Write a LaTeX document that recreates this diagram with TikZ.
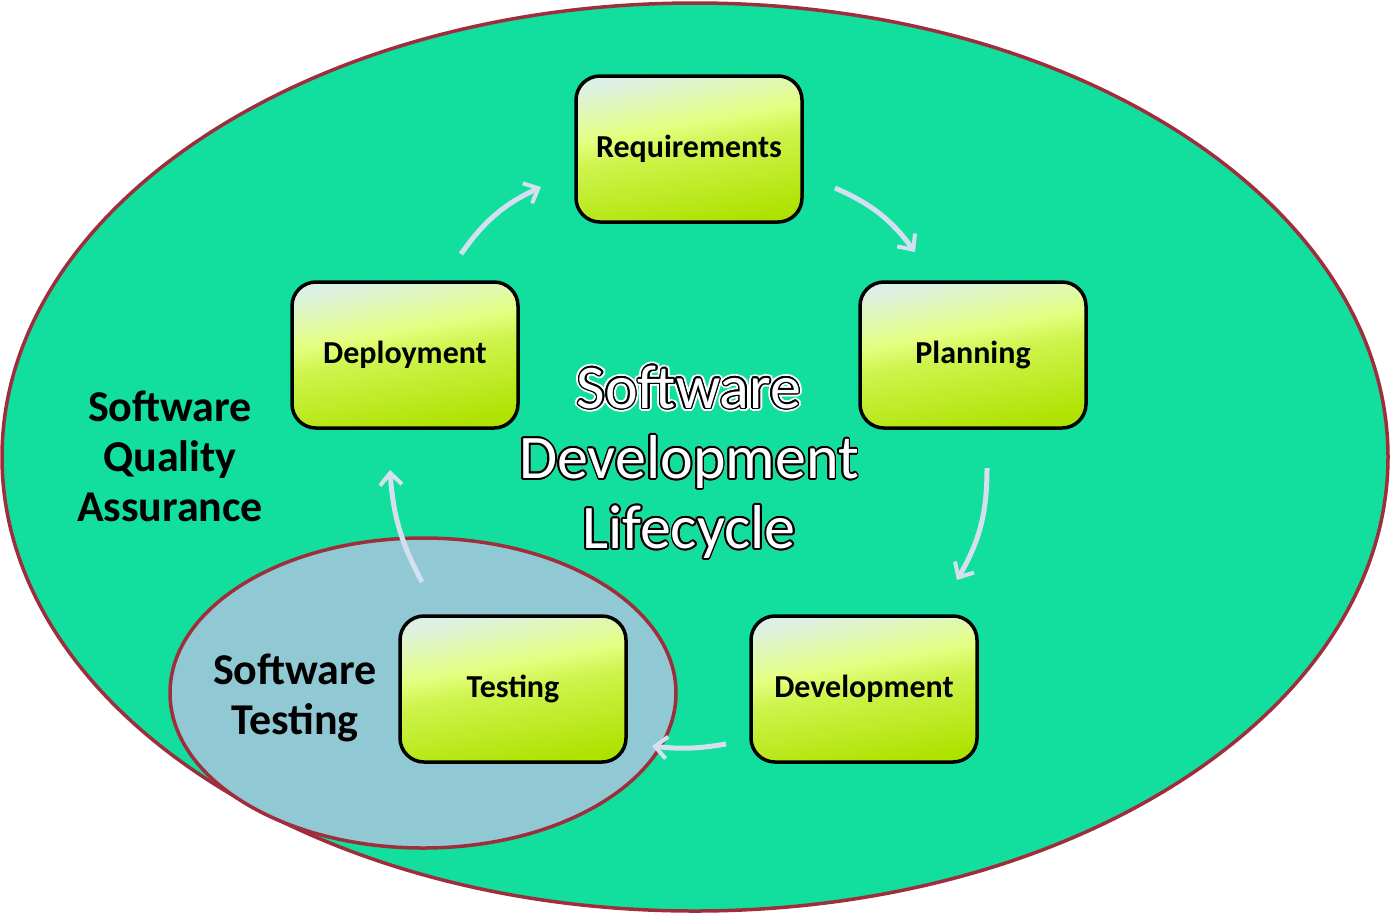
\documentclass[tikz,border=0pt]{standalone}
\usepackage{fontspec}
\setmainfont{Carlito}
\usepackage[copies]{contour}
\usetikzlibrary{arrows.meta}

\definecolor{qagreen}{RGB}{18,222,158}
\definecolor{stblue}{RGB}{144,200,212}
\definecolor{rimred}{RGB}{160,45,60}
\definecolor{boxtop}{RGB}{220,240,228}
\definecolor{boxmid}{RGB}{228,255,128}
\definecolor{boxbot}{RGB}{174,226,0}
\definecolor{arrowblue}{RGB}{212,224,240}

\pgfdeclareverticalshading{stagefill}{100bp}{color(0bp)=(boxbot); color(25bp)=(boxbot);
  color(50bp)=(boxmid!60!boxbot); color(58bp)=(boxmid); color(75bp)=(boxtop); color(100bp)=(boxtop)}

% white letters with a rim of colour #1
\newcommand{\sdlctitle}[2]{\contourlength{#2}\contour{#1}{\color{white}Software}\\
  \contour{#1}{\color{white}Development}\\ \contour{#1}{\color{white}Lifecycle}}

\begin{document}
\begin{tikzpicture}[x=1pt,y=-1pt,
stage/.style={draw=black,line width=3.5pt,rounded corners=24pt,minimum width=226pt,minimum height=146pt,
  shading=stagefill,shading angle=10,font=\bfseries\fontsize{32}{36}\selectfont},
cyclearrow/.style={arrowblue,line width=5pt,-{Straight Barb[length=12pt,width=22pt,line width=4pt]}},
areanote/.style={font=\bfseries\fontsize{44}{50}\selectfont,align=center},
titletext/.style={align=center,font=\fontsize{62}{70}\selectfont}]

\useasboundingbox (0,0) rectangle (1391,914);

\draw [rimred,line width=3.5pt,fill=qagreen] (695,457) ellipse [x radius=693,y radius=454];
\draw [rimred,line width=3.5pt,fill=stblue] (423,693) ellipse [x radius=253,y radius=155];

\node (req) at (689,149) [stage] {Requirements};
\node (plan) at (973,355) [stage] {Planning};
\node (dev) at (864,689) [stage] {Development};
\node (test) at (513,689) [stage] {Testing};
\node (depl) at (405,355) [stage] {Deployment};

\node (sqa) at (170,456) [areanote] {Software\\ Quality\\ Assurance};
\node (st) at (295,698) [areanote] {Software\\ Testing};

\node (halo) at (689,463) [titletext] {\sdlctitle{white}{3.6pt}};
\node (title) at (689,463) [titletext] {\sdlctitle{black}{1.6pt}};

% free ends of the cycle arrows
\coordinate (a1s) at (461,254); \coordinate (a1e) at (541,187);
\coordinate (a2s) at (835,188); \coordinate (a2e) at (915,252);
\coordinate (a3s) at (987,468); \coordinate (a3e) at (957,580);
\coordinate (a4s) at (726,744); \coordinate (a4e) at (652,746);
\coordinate (a5s) at (422,582); \coordinate (a5e) at (390,470);

\draw [cyclearrow] (a1s) to [bend left=15] (a1e);
\draw [cyclearrow] (a2s) to [bend left=15] (a2e);
\draw [cyclearrow] (a3s) to [bend left=15] (a3e);
\draw [cyclearrow] (a4s) to [bend left=8] (a4e);
\draw [cyclearrow] (a5s) to [bend left=12] (a5e);

\end{tikzpicture}
\end{document}
